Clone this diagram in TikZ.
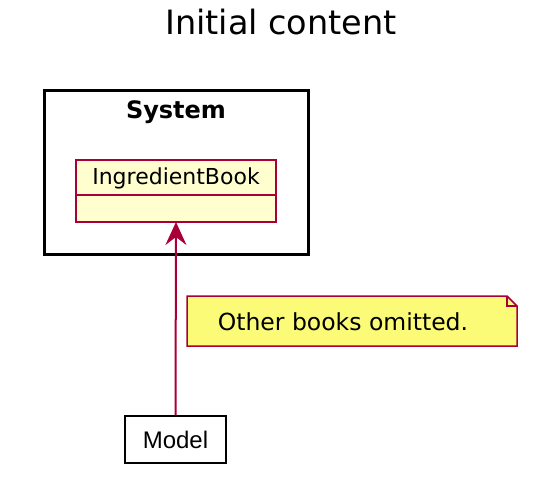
\documentclass[tikz,border=0pt]{standalone}
\usepackage{fontspec}
\setmainfont{DejaVu Sans}
\newfontfamily\modelfont{Liberation Sans}
\usetikzlibrary{arrows.meta}

\definecolor{umlred}{HTML}{A80036}
\definecolor{classfill}{HTML}{FEFECE}
\definecolor{notefill}{HTML}{FBFB77}

\tikzset{
    classbox/.style={draw=umlred, line width=2pt, fill=classfill},
    notebox/.style={draw=umlred, line width=1.5pt, fill=notefill},
    plainbox/.style={draw=black, line width=1.5pt, fill=white, inner sep=0pt}
}

\begin{document}
\begin{tikzpicture}[x=1pt, y=-1pt]
    \useasboundingbox (0,0) rectangle (538,483);

    \node (title) at (281,22) {\fontsize{33.5}{38}\selectfont Initial content};

    % System package
    \draw[line width=3pt] (44,90) rectangle (308,254);
    \node (system) at (176,112) {\fontsize{24}{28}\selectfont\bfseries System};

    % IngredientBook class
    \draw[classbox] (76,160) rectangle (276,222);
    \draw[umlred, line width=2pt] (76,195) -- (276,195);
    \node (book) at (176,178) {\fontsize{22}{26}\selectfont IngredientBook};
    \coordinate (bookbottom) at (176,222);

    % note
    \draw[notebox] (187,296) -- (507,296) -- (517,306) -- (517,346) -- (187,346) -- cycle;
    \draw[umlred, line width=1.5pt] (507,296) -- (507,306) -- (517,306);
    \node (note) at (343,322) {\fontsize{23.5}{28}\selectfont Other books omitted.};

    % Model
    \node[plainbox, minimum width=101pt, minimum height=47pt] (model) at (175.5,439.5)
        {\modelfont\fontsize{24}{28}\selectfont Model};

    \draw[umlred, line width=2pt, -{Stealth[length=23pt, width=21pt, inset=8pt]}]
        (model.north) -- (bookbottom);
\end{tikzpicture}
\end{document}
